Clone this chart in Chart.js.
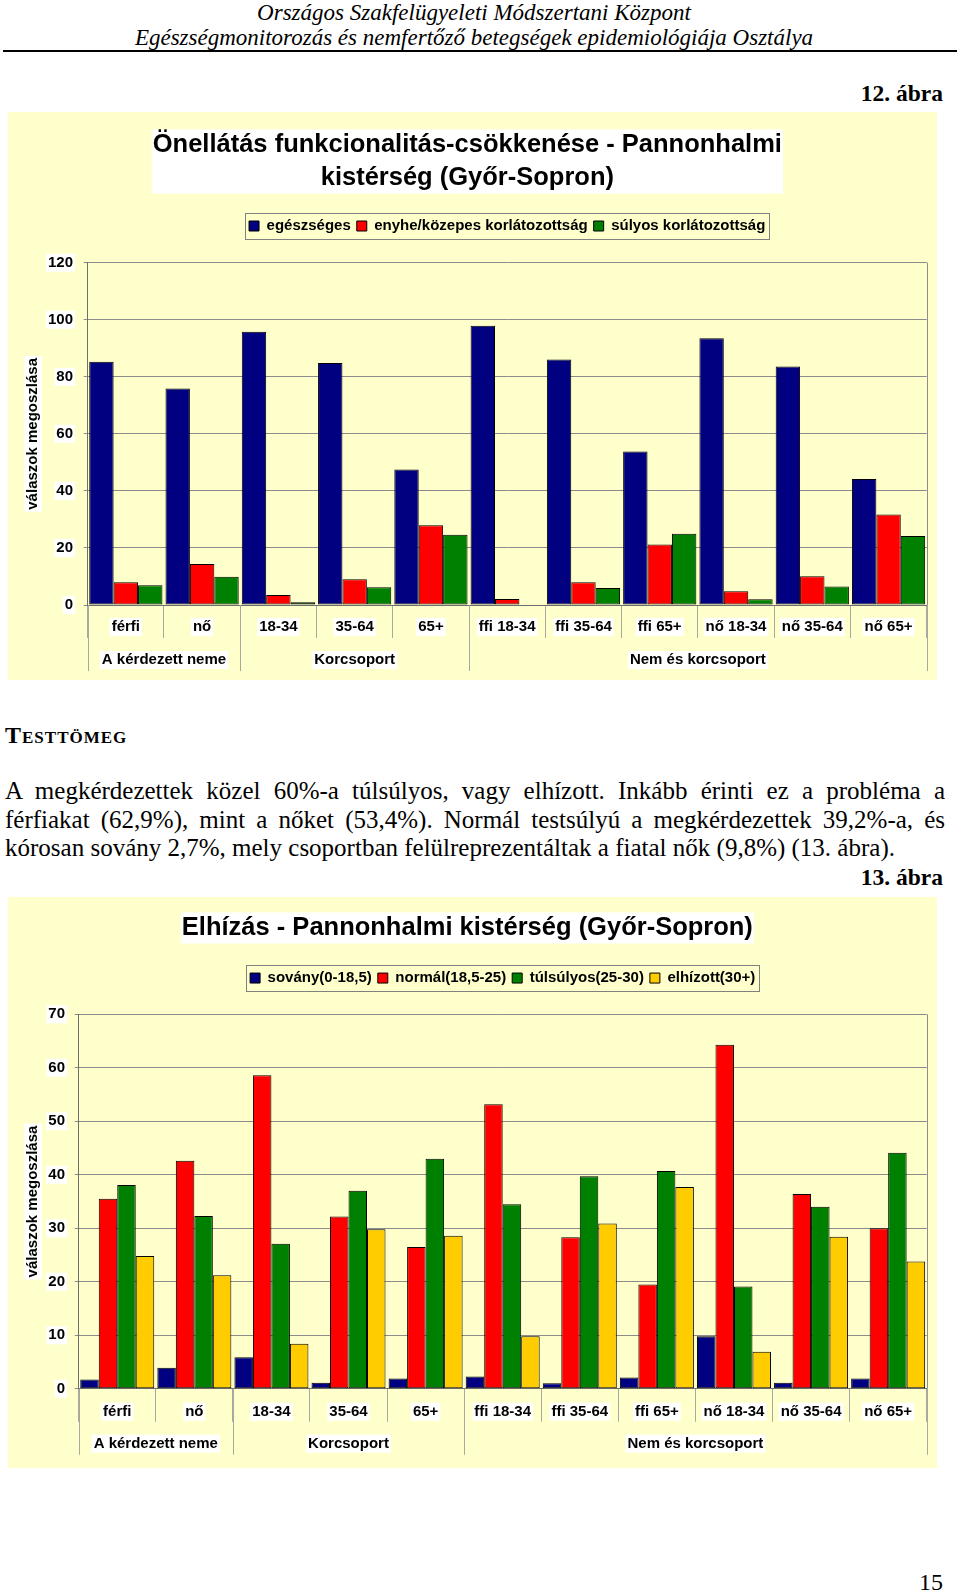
<!DOCTYPE html>
<html lang="hu">
<head>
<meta charset="utf-8">
<title>Önellátás és elhízás - Pannonhalmi kistérség</title>
<script src="https://cdn.jsdelivr.net/npm/chart.js@4.4.1/dist/chart.umd.min.js"></script>
<style>
  body { margin: 0; width: 960px; height: 1593px; position: relative; background: #fff;
         font-family: "Liberation Serif", "Times New Roman", serif; color: #000; }
  .abs { position: absolute; }
  .head { left: 0; top: 0; width: 948px; text-align: center; font-style: italic; font-size: 23px; line-height: 25px; }
  .rule { left: 3px; top: 50px; width: 954px; height: 2px; background: #000; }
  .fig { right: 17px; font-weight: bold; font-size: 23.5px; line-height: 26px; }
  .section { left: 5px; top: 722px; font-weight: bold; font-variant: small-caps; font-size: 24px; line-height: 26px; letter-spacing: 1px; }
  .para { left: 5px; top: 777px; width: 940px; font-size: 25px; line-height: 28.5px; }
  .para .j { text-align: justify; text-align-last: justify; }
  .page { right: 17px; top: 1569px; font-size: 24px; line-height: 26px; }
  canvas { position: absolute; left: 8px; }
</style>
</head>
<body>
<div class="abs head">Országos Szakfelügyeleti Módszertani Központ<br>Egészségmonitorozás és nemfertőző betegségek epidemiológiája Osztálya</div>
<div class="abs rule"></div>
<div class="abs fig" style="top:80px">12. ábra</div>
<canvas id="chart1" width="929" height="568" style="top:112px"></canvas>
<div class="abs section">Testtömeg</div>
<div class="abs para">
  <div class="j">A megkérdezettek közel 60%-a túlsúlyos, vagy elhízott. Inkább érinti ez a probléma a</div>
  <div class="j">férfiakat (62,9%), mint a nőket (53,4%). Normál testsúlyú a megkérdezettek 39,2%-a, és</div>
  <div>kórosan sovány 2,7%, mely csoportban felülreprezentáltak a fiatal nők (9,8%) (13. ábra).</div>
</div>
<div class="abs fig" style="top:864px">13. ábra</div>
<canvas id="chart2" width="929" height="571" style="top:897px"></canvas>
<div class="abs page">15</div>

<script>
// categories shared by both charts
const categories = ["férfi", "nő", "18-34", "35-64", "65+", "ffi 18-34", "ffi 35-64", "ffi 65+", "nő 18-34", "nő 35-64", "nő 65+"];
const groupNames = ["A kérdezett neme", "Korcsoport", "Nem és korcsoport"];
const groupSizes = [2, 3, 6];

// 12. ábra - önellátás
const egeszseges = [85.3, 75.9, 95.8, 84.8, 47.5, 97.9, 86.1, 53.8, 93.5, 83.6, 44.2];
const enyhe = [8.0, 14.4, 3.5, 9.0, 28.0, 2.1, 8.0, 21.2, 4.8, 10.1, 31.7];
const sulyos = [6.9, 9.9, 1.0, 6.2, 24.6, 0, 6.0, 25.0, 2.0, 6.5, 24.2];
const ticks1 = [0, 20, 40, 60, 80, 100, 120];

// 13. ábra - testtömeg
const sovany = [1.7, 3.9, 5.9, 1.1, 1.9, 2.3, 1.0, 2.1, 9.8, 1.1, 1.9];
const normal = [35.5, 42.6, 58.6, 32.2, 26.5, 53.2, 28.3, 19.5, 64.3, 36.4, 30.0];
const tulsulyos = [38.1, 32.3, 27.1, 37.0, 43.0, 34.5, 39.7, 40.7, 19.1, 34.0, 44.1];
const elhizott = [24.8, 21.2, 8.4, 29.8, 28.6, 9.8, 30.9, 37.7, 6.9, 28.4, 23.8];
const ticks2 = [0, 10, 20, 30, 40, 50, 60, 70];

const FONT = '"Liberation Sans", Arial, sans-serif';
const GRID = "#8c8c8c";
const SEP = "#a8a8a0";
const PANEL = "#FFFFCC";
const axisTitle = "válaszok megoszlása";

Chart.defaults.font.family = FONT;
Chart.defaults.color = "#000";

// panel background, white boxes, grouped axis and legend frame
const panelPlugin = {
  id: "panel",
  beforeLayout(chart, args, opts) {
    const lg = chart.legend;
    if (lg && !lg._gapPatched) {
      const fit = lg.fit;
      lg.fit = function () { fit.call(this); this.height += opts.legendGap; };
      lg._gapPatched = true;
    }
  },
  beforeDraw(chart, args, opts) {
    const ctx = chart.ctx;
    ctx.save();
    ctx.fillStyle = PANEL;
    ctx.fillRect(0, 0, chart.width, chart.height);

    // white box behind the title
    const tb = chart.titleBlock;
    const lines = [].concat(tb.options.text);
    ctx.font = "bold 25.5px " + FONT;
    let w = 0;
    lines.forEach(l => { w = Math.max(w, ctx.measureText(l).width); });
    const lh = 25.5 * 1.3;
    ctx.fillStyle = "#fff";
    ctx.fillRect((tb.left + tb.right) / 2 - w / 2 - 1, tb.top + opts.titleTop + 1, w + 2, lines.length * lh - 2);

    // white box behind the y axis title
    const ys = chart.scales.y;
    ctx.font = "bold 15px " + FONT;
    const len = ctx.measureText(axisTitle).width;
    const cx = ys.left + 25, cy = (ys.top + ys.bottom) / 2;
    ctx.fillRect(cx - 9, cy - len / 2 - 2, 18, len + 4);
    ctx.restore();
  },
  afterDraw(chart) {
    const ctx = chart.ctx;
    const ca = chart.chartArea;
    const xs = chart.scales.x;
    ctx.save();
    ctx.lineWidth = 1;

    // right border of the plot area
    ctx.strokeStyle = GRID;
    ctx.beginPath();
    ctx.moveTo(Math.round(ca.right) + 0.5, ca.top);
    ctx.lineTo(Math.round(ca.right) + 0.5, ca.bottom);
    ctx.stroke();

    // group separators and group labels
    const edges = [ca.left];
    let idx = 0;
    groupSizes.forEach(s => {
      idx += s;
      edges.push(idx < categories.length ? (xs.getPixelForValue(idx - 1) + xs.getPixelForValue(idx)) / 2 : ca.right);
    });
    ctx.strokeStyle = SEP;
    edges.forEach(e => {
      const x = Math.round(e) + 0.5;
      ctx.beginPath();
      ctx.moveTo(x, ca.bottom);
      ctx.lineTo(x, ca.bottom + 66);
      ctx.stroke();
    });
    ctx.font = "bold 15px " + FONT;
    ctx.textAlign = "center";
    ctx.textBaseline = "middle";
    groupNames.forEach((g, i) => {
      const cx = (edges[i] + edges[i + 1]) / 2;
      const cy = ca.bottom + 55;
      const w = ctx.measureText(g).width;
      ctx.fillStyle = "#fff";
      ctx.fillRect(cx - w / 2 - 2, cy - 9, w + 4, 18);
      ctx.fillStyle = "#000";
      ctx.fillText(g, cx, cy);
    });

    // frame around the legend
    const hb = chart.legend.legendHitBoxes;
    if (hb && hb.length) {
      const last = hb[hb.length - 1];
      const l = Math.round(hb[0].left - 4) + 0.5;
      const r = Math.round(last.left + last.width + 4) + 0.5;
      const t = Math.round(hb[0].top - 6) + 0.5;
      ctx.strokeStyle = "#808080";
      ctx.strokeRect(l, t, r - l, 26);
    }
    ctx.restore();
  }
};

function bars(label, data, color) {
  return {
    label: label,
    data: data,
    backgroundColor: color,
    borderColor: "#000",
    borderWidth: 1,
    borderSkipped: false,
    barPercentage: 1,
    categoryPercentage: 0.96
  };
}

function buildChart(id, title, datasets, tickValues, g) {
  return new Chart(id, {
    type: "bar",
    data: { labels: categories, datasets: datasets },
    plugins: [panelPlugin],
    options: {
      responsive: false,
      animation: false,
      layout: { padding: { top: 0, right: g.padRight, bottom: 0, left: 0 } },
      plugins: {
        panel: { legendGap: g.legendGap, titleTop: g.titleTop },
        tooltip: { enabled: false },
        title: {
          display: true,
          text: title,
          color: "#000",
          font: { size: 25.5, weight: "bold", lineHeight: 1.3 },
          padding: { top: g.titleTop, bottom: g.titleBottom }
        },
        legend: {
          position: "top",
          fullSize: false,
          labels: {
            boxWidth: 10,
            boxHeight: 10,
            padding: 6,
            color: "#000",
            font: { size: 15, weight: "bold" }
          }
        }
      },
      scales: {
        x: {
          afterFit: s => { s.height = g.axisH; },
          grid: { offset: true, drawOnChartArea: false, drawTicks: true, tickLength: 33, color: SEP },
          border: { display: true, color: "#6e6e6e" },
          ticks: {
            autoSkip: false,
            maxRotation: 0,
            padding: g.labelPad,
            font: { size: 15, weight: "bold" },
            showLabelBackdrop: true,
            backdropColor: "#fff",
            backdropPadding: { top: 0, bottom: 0, left: 2, right: 2 }
          }
        },
        y: {
          min: tickValues[0],
          max: tickValues[tickValues.length - 1],
          afterFit: s => { s.width = g.axisW; },
          afterBuildTicks: s => { s.ticks = tickValues.map(v => ({ value: v })); },
          grid: { color: GRID, tickLength: 4, drawTicks: true },
          border: { display: true, color: "#6e6e6e" },
          ticks: {
            padding: g.tickPad,
            font: { size: 15, weight: "bold" },
            showLabelBackdrop: true,
            backdropColor: "#fff",
            backdropPadding: { top: 0, bottom: 0, left: 2, right: 2 }
          },
          title: {
            display: true,
            text: axisTitle,
            color: "#000",
            font: { size: 15, weight: "bold", lineHeight: 1.2 },
            padding: { top: 16, bottom: 0 }
          }
        }
      }
    }
  });
}

buildChart("chart1",
  ["Önellátás funkcionalitás-csökkenése - Pannonhalmi", "kistérség (Győr-Sopron)"],
  [
    bars("egészséges", egeszseges, "#000080"),
    bars("enyhe/közepes korlátozottság", enyhe, "#FF0000"),
    bars("súlyos korlátozottság", sulyos, "#008000")
  ],
  ticks1,
  { axisW: 79.7, axisH: 75, padRight: 10.3, titleTop: 16.4, titleBottom: 17.8, legendGap: 19.2, labelPad: -20, tickPad: 10.7 }
);

buildChart("chart2",
  "Elhízás - Pannonhalmi kistérség (Győr-Sopron)",
  [
    bars("sovány(0-18,5)", sovany, "#000080"),
    bars("normál(18,5-25)", normal, "#FF0000"),
    bars("túlsúlyos(25-30)", tulsulyos, "#008000"),
    bars("elhízott(30+)", elhizott, "#FFCC00")
  ],
  ticks2,
  { axisW: 70.7, axisH: 79.3, padRight: 10.3, titleTop: 14.4, titleBottom: 20, legendGap: 18.75, labelPad: -19, tickPad: 9.7 }
);
</script>
</body>
</html>
